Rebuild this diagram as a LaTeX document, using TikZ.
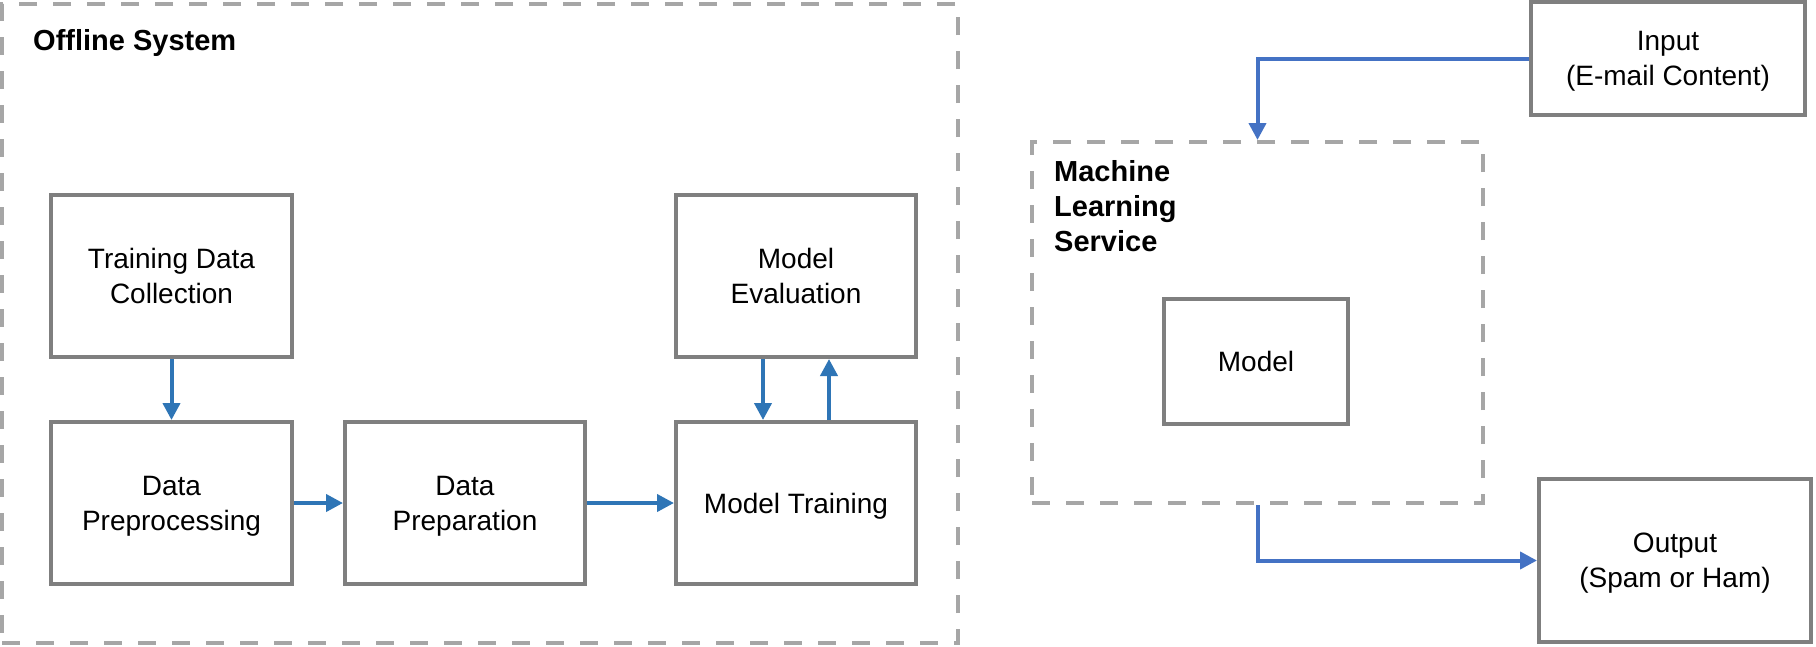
\documentclass[tikz,border=0pt]{standalone}
\usepackage{fontspec}
\setmainfont{Liberation Sans}
\usetikzlibrary{arrows.meta}
\definecolor{boxgray}{HTML}{7F7F7F}
\definecolor{dashgray}{HTML}{A6A6A6}
\definecolor{blueL}{HTML}{2E75B6}
\definecolor{blueR}{HTML}{4472C4}
\begin{document}
\begin{tikzpicture}[x=1pt,y=-1pt,
  procbox/.style={draw=boxgray, line width=4pt, fill=white, align=center,
    font=\fontsize{28}{35}\selectfont, inner sep=0pt},
  groupbox/.style={draw=dashgray, line width=4pt, dash pattern=on 18pt off 16pt},
  flowL/.style={draw=blueL, line width=4pt, -{Triangle[length=17pt,width=17pt]}},
  flowR/.style={draw=blueR, line width=4pt, -{Triangle[length=17pt,width=17pt]}},
  grouptitle/.style={font=\bfseries\fontsize{29}{35}\selectfont, align=left, inner sep=0pt}]
\useasboundingbox (0,0) rectangle (1816,646);
\fill[white] (0,0) rectangle (1816,646);
% group boxes
\node[groupbox, minimum width=956pt, minimum height=639pt] (offline) at (480,323.5) {};
\node[groupbox, minimum width=451pt, minimum height=361pt] (ml) at (1257.5,322.5) {};
\node[grouptitle, anchor=base west] (offtitle) at (33,50) {Offline System};
\node[grouptitle, anchor=north west] (mltitle) at (1054,160) {Machine\\Learning\\Service};
% process boxes
\node[procbox, minimum width=241pt, minimum height=162pt, text depth=-4.5pt] (tdc) at (171.5,276) {Training Data\\Collection};
\node[procbox, minimum width=241pt, minimum height=162pt, text depth=-1pt] (dpre) at (171.5,503) {Data\\Preprocessing};
\node[procbox, minimum width=240pt, minimum height=162pt, text depth=-1pt] (dprep) at (465,503) {Data\\Preparation};
\node[procbox, minimum width=240pt, minimum height=162pt, text depth=-1pt] (mt) at (796,503) {Model Training};
\node[procbox, minimum width=240pt, minimum height=162pt, text depth=-4pt] (me) at (796,276) {Model\\Evaluation};
\node[procbox, minimum width=184pt, minimum height=125pt, text depth=-2pt] (model) at (1256,361.5) {Model};
\node[procbox, minimum width=274pt, minimum height=113pt, text depth=-3pt] (input) at (1668,58.5) {Input\\(E-mail Content)};
\node[procbox, minimum width=272pt, minimum height=163pt, text depth=-4pt] (output) at (1675,560.5) {Output\\(Spam or Ham)};
% connectors
\draw[flowL] (tdc) -- (dpre);
\draw[flowL] (dpre) -- (dprep);
\draw[flowL] (dprep) -- (mt);
\draw[flowL] ([xshift=-33pt]me.south) -- ([xshift=-33pt]mt.north);
\draw[flowL] ([xshift=33pt]mt.north) -- ([xshift=33pt]me.south);
\draw[flowR] (input.west) -| (ml.north);
\draw[flowR] (ml.south) |- (output.west);
\end{tikzpicture}
\end{document}
